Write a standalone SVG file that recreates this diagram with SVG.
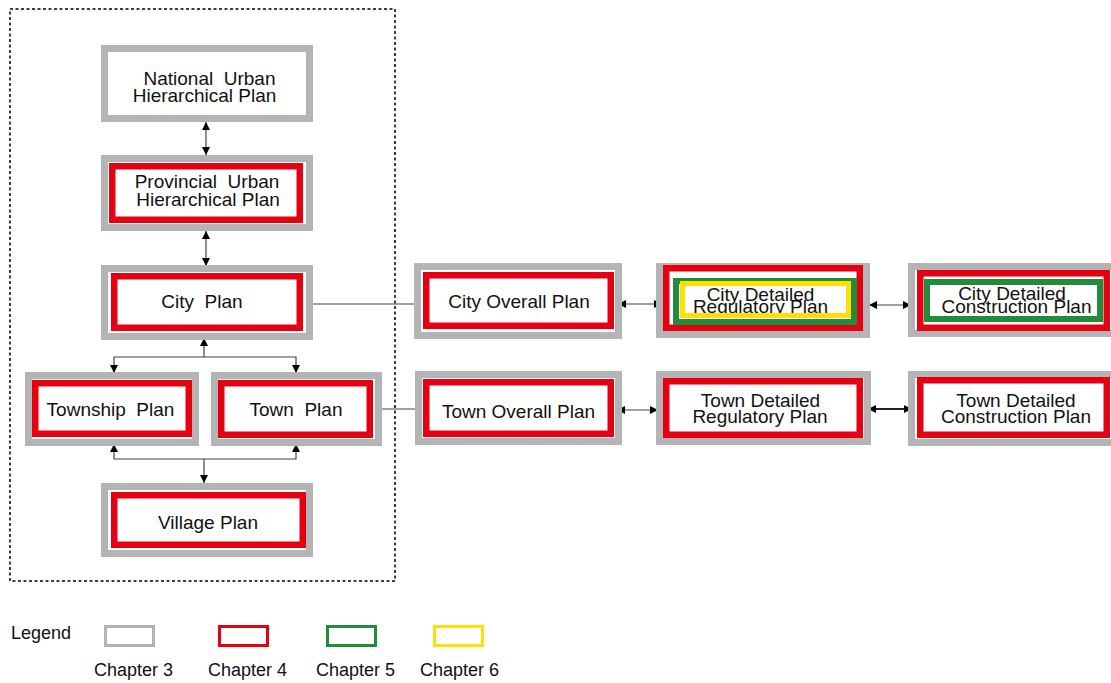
<svg xmlns="http://www.w3.org/2000/svg" width="1111" height="683" viewBox="0 0 1111 683">
  <style>
    .bg { fill: #ffffff; }
    .gray { fill: #ffffff; stroke: #b4b4b4; stroke-width: 7; }
    .red { fill: none; stroke: #e50012; stroke-width: 6.5; }
    .green { fill: none; stroke: #238b3c; stroke-width: 6; }
    .yellow { fill: none; stroke: #ffe000; stroke-width: 5; }
    .lbl { font-family: "Liberation Sans", Arial, sans-serif; font-size: 19px; fill: #111; text-anchor: middle; white-space: pre; }
    .leg { font-family: "Liberation Sans", Arial, sans-serif; font-size: 18px; fill: #111; white-space: pre; }
    .conn { fill: none; stroke: #444; stroke-width: 1.2; }
    .thick { stroke: #222; stroke-width: 2; }
  </style>
  <defs>
    <marker id="ah" markerUnits="userSpaceOnUse" markerWidth="9" markerHeight="9" refX="8" refY="4" orient="auto-start-reverse">
      <path d="M0,0 L8,4 L0,8 z" fill="#000"/>
    </marker>
  </defs>
  <rect class="bg" x="0" y="0" width="1111" height="683"/>

  <!-- urban planning system frame -->
  <rect x="10" y="9" width="385" height="572" fill="none" stroke="#000" stroke-width="1.5" stroke-dasharray="3 2.5"/>

  <g id="connectors">
    <line class="conn" x1="206" y1="122" x2="206" y2="155" marker-start="url(#ah)" marker-end="url(#ah)"/>
    <line class="conn" x1="206" y1="231" x2="206" y2="266" marker-start="url(#ah)" marker-end="url(#ah)"/>
    <line class="conn" x1="204" y1="357" x2="204" y2="338" marker-end="url(#ah)"/>
    <path class="conn" d="M114,373 V357 H296 V373" marker-start="url(#ah)" marker-end="url(#ah)"/>
    <path class="conn" d="M114,444 V459 H296 V444" marker-start="url(#ah)" marker-end="url(#ah)"/>
    <line class="conn" x1="204" y1="459" x2="204" y2="483" marker-end="url(#ah)"/>
    <line class="conn" x1="310" y1="304" x2="417" y2="304"/>
    <line class="conn" x1="378" y1="409" x2="417" y2="409"/>
    <line class="conn" x1="618" y1="304" x2="662" y2="304" marker-start="url(#ah)" marker-end="url(#ah)"/>
    <line class="conn" x1="617" y1="410" x2="658" y2="410" marker-start="url(#ah)" marker-end="url(#ah)"/>
    <line class="conn" x1="869" y1="305" x2="911" y2="305" marker-start="url(#ah)" marker-end="url(#ah)"/>
    <line class="conn thick" x1="868" y1="409" x2="912" y2="409" marker-start="url(#ah)" marker-end="url(#ah)"/>
  </g>

  <g id="national">
    <rect class="gray" x="104.5" y="48.5" width="205" height="70"/>
    <text class="lbl" x="209.5" y="85">National  Urban</text>
    <text class="lbl" x="204.5" y="102">Hierarchical Plan</text>
  </g>

  <g id="provincial">
    <rect class="gray" x="104.5" y="158.5" width="205" height="69"/>
    <rect class="red" x="112.25" y="166.25" width="187.5" height="53.5"/>
    <text class="lbl" x="207" y="188">Provincial  Urban</text>
    <text class="lbl" x="208" y="206">Hierarchical Plan</text>
  </g>

  <g id="city">
    <rect class="gray" x="104.5" y="268.5" width="205" height="68"/>
    <rect class="red" x="114.25" y="276.25" width="185.5" height="51.5"/>
    <text class="lbl" x="202" y="308">City  Plan</text>
  </g>

  <g id="township">
    <rect class="gray" x="28.5" y="375.5" width="167" height="67"/>
    <rect class="red" x="35.25" y="383.25" width="153.5" height="50.5"/>
    <text class="lbl" x="110.5" y="416">Township  Plan</text>
  </g>

  <g id="town">
    <rect class="gray" x="214.5" y="375.5" width="164" height="67"/>
    <rect class="red" x="221.25" y="383.25" width="148.5" height="51.5"/>
    <text class="lbl" x="296" y="416">Town  Plan</text>
  </g>

  <g id="village">
    <rect class="gray" x="104.5" y="486.5" width="205" height="67"/>
    <rect class="red" x="114.25" y="495.25" width="188.5" height="49.5"/>
    <text class="lbl" x="208" y="529">Village Plan</text>
  </g>

  <g id="city-overall">
    <rect class="gray" x="417.5" y="266.5" width="201" height="69"/>
    <rect class="red" x="426.25" y="275.25" width="184.5" height="50.5"/>
    <text class="lbl" x="519" y="308">City Overall Plan</text>
  </g>

  <g id="town-overall">
    <rect class="gray" x="418.5" y="374.5" width="200" height="67"/>
    <rect class="red" x="426.25" y="382.25" width="184.5" height="51.5"/>
    <text class="lbl" x="518.5" y="418">Town Overall Plan</text>
  </g>

  <g id="city-detailed-regulatory">
    <rect class="gray" x="659.5" y="266.5" width="207" height="68"/>
    <text class="lbl" x="760.5" y="301">City Detailed</text>
    <text class="lbl" x="760.5" y="312.5">Regulatory Plan</text>
    <rect class="red" x="666.25" y="268.25" width="193.5" height="59.5"/>
    <rect class="green" x="676" y="281" width="178" height="41"/>
    <rect class="yellow" x="682.5" y="283.5" width="166" height="32"/>
  </g>

  <g id="city-detailed-construction">
    <rect class="gray" x="911.5" y="266.5" width="203" height="67"/>
    <rect class="red" x="920.25" y="273.25" width="186.5" height="54.5"/>
    <rect class="green" x="927" y="282" width="173" height="37"/>
    <text class="lbl" x="1012" y="300">City Detailed</text>
    <text class="lbl" x="1016.5" y="313">Construction Plan</text>
  </g>

  <g id="town-detailed-regulatory">
    <rect class="gray" x="659.5" y="374.5" width="208" height="67"/>
    <rect class="red" x="666.25" y="381.25" width="193.5" height="53.5"/>
    <text class="lbl" x="760.5" y="407">Town Detailed</text>
    <text class="lbl" x="760" y="423">Regulatory Plan</text>
  </g>

  <g id="town-detailed-construction">
    <rect class="gray" x="911.5" y="374.5" width="203" height="68"/>
    <rect class="red" x="920.25" y="380.25" width="186.5" height="54.5"/>
    <text class="lbl" x="1016" y="407">Town Detailed</text>
    <text class="lbl" x="1016" y="423">Construction Plan</text>
  </g>

  <g id="legend">
    <text class="leg" x="11" y="639">Legend</text>
    <rect x="105.5" y="626.5" width="48" height="19" fill="none" stroke="#b4b4b4" stroke-width="3"/>
    <rect x="219.5" y="626.5" width="48" height="19" fill="none" stroke="#e50012" stroke-width="3"/>
    <rect x="327.5" y="626.5" width="48" height="19" fill="none" stroke="#238b3c" stroke-width="3"/>
    <rect x="434.5" y="626.5" width="48" height="19" fill="none" stroke="#ffe000" stroke-width="3"/>
    <text class="leg" x="94" y="676">Chapter 3</text>
    <text class="leg" x="208" y="676">Chapter 4</text>
    <text class="leg" x="316" y="676">Chapter 5</text>
    <text class="leg" x="420" y="676">Chapter 6</text>
  </g>
</svg>
